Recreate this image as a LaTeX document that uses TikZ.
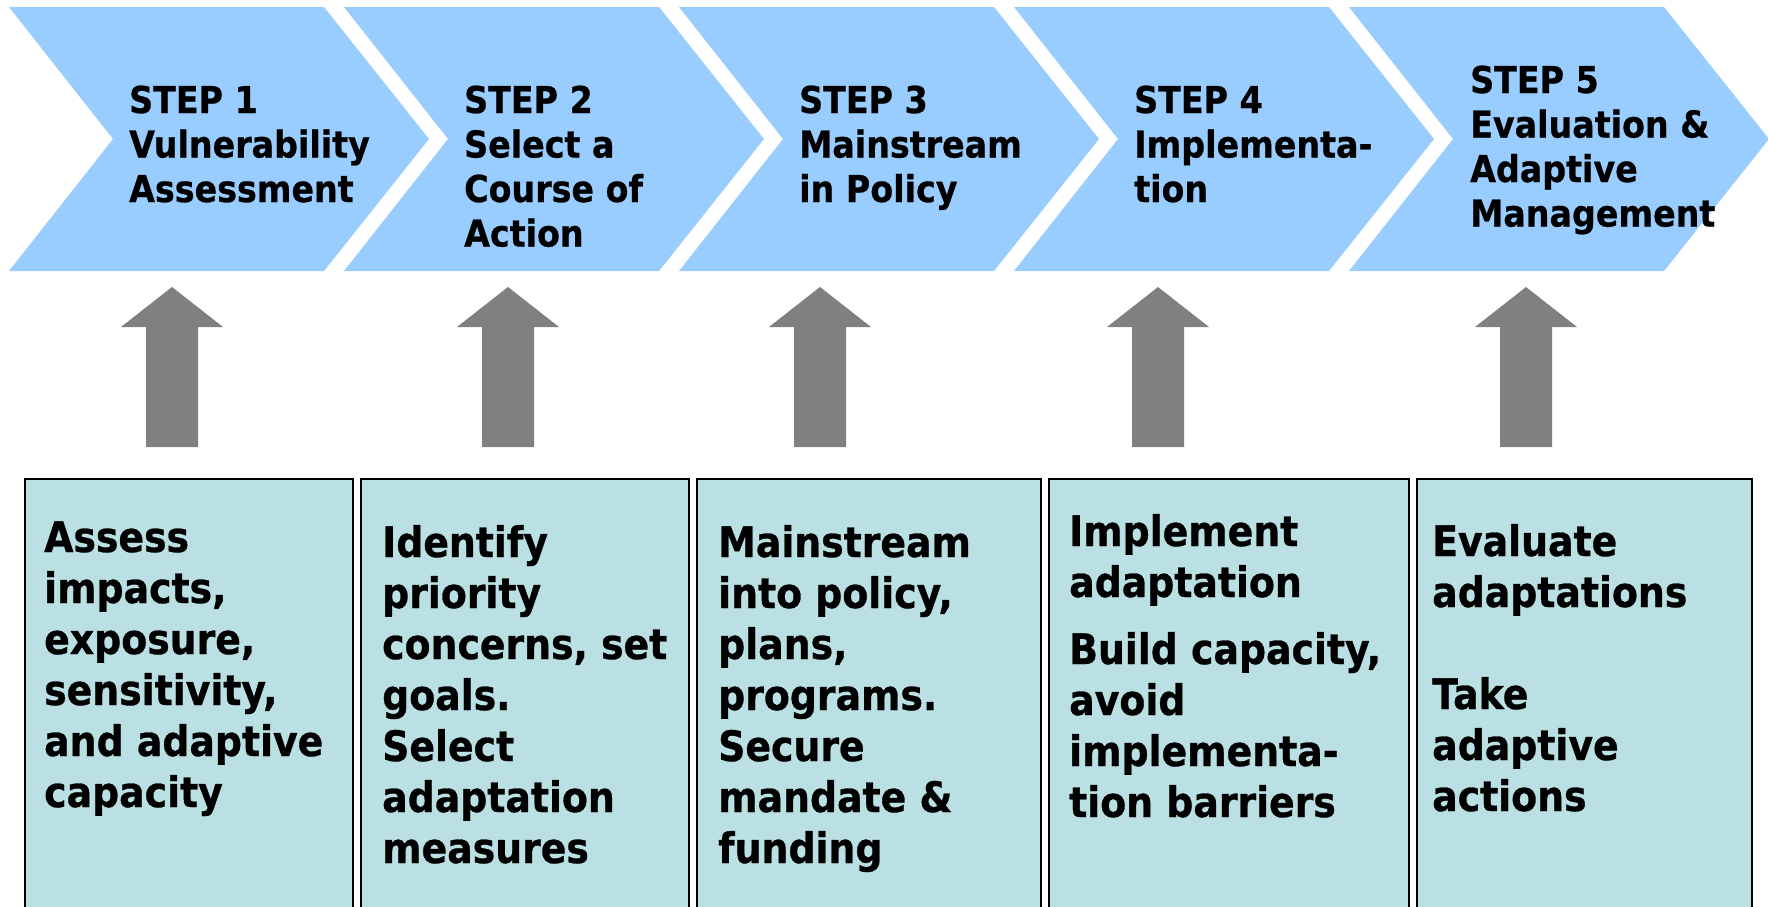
\documentclass[tikz,border=0pt]{standalone}
\usepackage{fontspec}
\newfontfamily\vfont[FakeStretch=0.9,FakeBold=0.7]{DejaVu Sans}
\definecolor{chevblue}{HTML}{99CCFF}
\definecolor{boxteal}{HTML}{BBE0E3}
\definecolor{arrgray}{HTML}{808080}
\tikzset{
  chev/.style={fill=chevblue},
  stepbox/.style={fill=boxteal, draw=black, line width=2pt},
  uparrow/.style={fill=arrgray},
  steptext/.style={anchor=base west, inner sep=0pt, align=left,
    font=\vfont\bfseries\fontsize{37}{44.5}\selectfont},
  boxtext/.style={anchor=base west, inner sep=0pt, align=left,
    font=\vfont\bfseries\fontsize{42}{51}\selectfont}
}
\begin{document}
\begin{tikzpicture}[x=1pt,y=-1pt]
\useasboundingbox (0,0) rectangle (1768,906);
\clip (0,0) rectangle (1768,906);
% chevrons
\foreach \x in {9,344,679,1014,1349}{
  \fill[chev] (\x,7) -- (\x+315,7) -- (\x+420,139) -- (\x+315,271) -- (\x,271) -- (\x+104,139) -- cycle;
}
% node base = baseline of the last line
\node[steptext] (s1) at (129,202) {STEP 1\\Vulnerability\\Assessment};
\node[steptext] (s2) at (464,246.5) {STEP 2\\Select a\\Course of\\Action};
\node[steptext] (s3) at (799,202) {STEP 3\\Mainstream\\in Policy};
\node[steptext] (s4) at (1134,202) {STEP 4\\Implementa-\\tion};
\node[steptext] (s5) at (1470,226.5) {STEP 5\\Evaluation \&\\Adaptive\\Management};
% block arrows
\foreach \c in {172,508,820,1158,1526}{
  \fill[uparrow] (\c,287) -- (\c+51,327) -- (\c+26,327) -- (\c+26,447) -- (\c-26,447) -- (\c-26,327) -- (\c-51,327) -- cycle;
}
% boxes
\draw[stepbox] (25,479) rectangle (353,930);
\draw[stepbox] (361,479) rectangle (689,930);
\draw[stepbox] (697,479) rectangle (1041,930);
\draw[stepbox] (1049,479) rectangle (1409,930);
\draw[stepbox] (1417,479) rectangle (1752,930);
\node[boxtext] (b1) at (44,807) {Assess\\impacts,\\exposure,\\sensitivity,\\and adaptive\\capacity};
\node[boxtext] (b2) at (382,863) {Identify\\priority\\concerns, set\\goals.\\Select\\adaptation\\measures};
\node[boxtext] (b3) at (718,863) {Mainstream\\into policy,\\plans,\\programs.\\Secure\\mandate \&\\funding};
\node[boxtext] (b4) at (1069,817) {Implement\\adaptation\\[16pt]Build capacity,\\avoid\\implementa-\\tion barriers};
\node[boxtext] (b5) at (1432,811) {Evaluate\\adaptations\\[51pt]Take\\adaptive\\actions};
\end{tikzpicture}
\end{document}
